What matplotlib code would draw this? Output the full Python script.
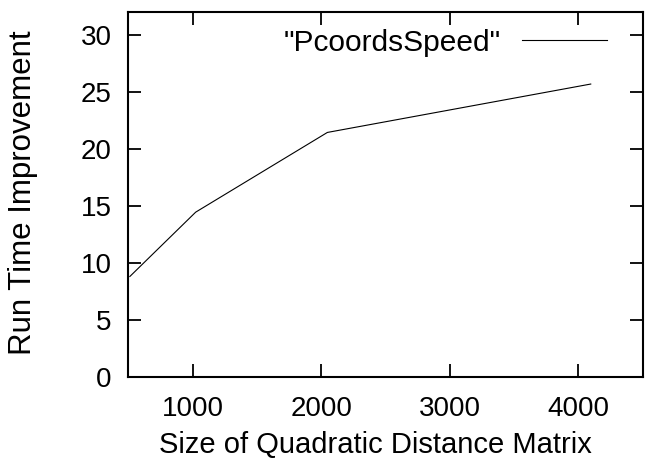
import numpy as np
import matplotlib
matplotlib.use("Agg")
import matplotlib.pyplot as plt

plt.rcParams['font.family'] = ['Liberation Sans', 'DejaVu Sans']

# matrix sizes and measured speedup
sizes = [512, 1024, 2048, 4096]
speedup = [8.8, 14.45, 21.45, 25.7]
series_name = '"PcoordsSpeed"'

xticks = [1000, 2000, 3000, 4000]
yticks = [0, 5, 10, 15, 20, 25, 30]

fs = 20

fig = plt.figure(figsize=(6.46, 4.65), dpi=100)
ax = fig.add_axes([128.3 / 646, 88.3 / 465, 514.4 / 646, 364.4 / 465])

ax.plot(sizes, speedup, color='black', lw=0.8, label=series_name)

ax.set_xlim(500, 4500)
ax.set_ylim(0, 32)
ax.set_xticks(xticks)
ax.set_yticks(yticks)
ax.tick_params(direction='in', length=9.5, width=1.3, labelsize=fs,
               top=True, right=True)
ax.tick_params(axis='y', pad=12)
ax.tick_params(axis='x', pad=14)
for s in ax.spines.values():
    s.set_linewidth(1.5)

ax.set_xlabel('Size of Quadratic Distance Matrix', fontsize=21)
ax.set_ylabel('Run Time Improvement', fontsize=22.5)
ax.xaxis.set_label_coords(0.48, -0.148)
ax.yaxis.set_label_coords(-0.176, 0.505)

ax.legend(loc='upper right', bbox_to_anchor=(0.93, 0.955), frameon=False,
          markerfirst=False, fontsize=21.5, handlelength=2.85,
          handletextpad=0.7, borderpad=0, borderaxespad=0)

fig.savefig('out.png', dpi=100)
